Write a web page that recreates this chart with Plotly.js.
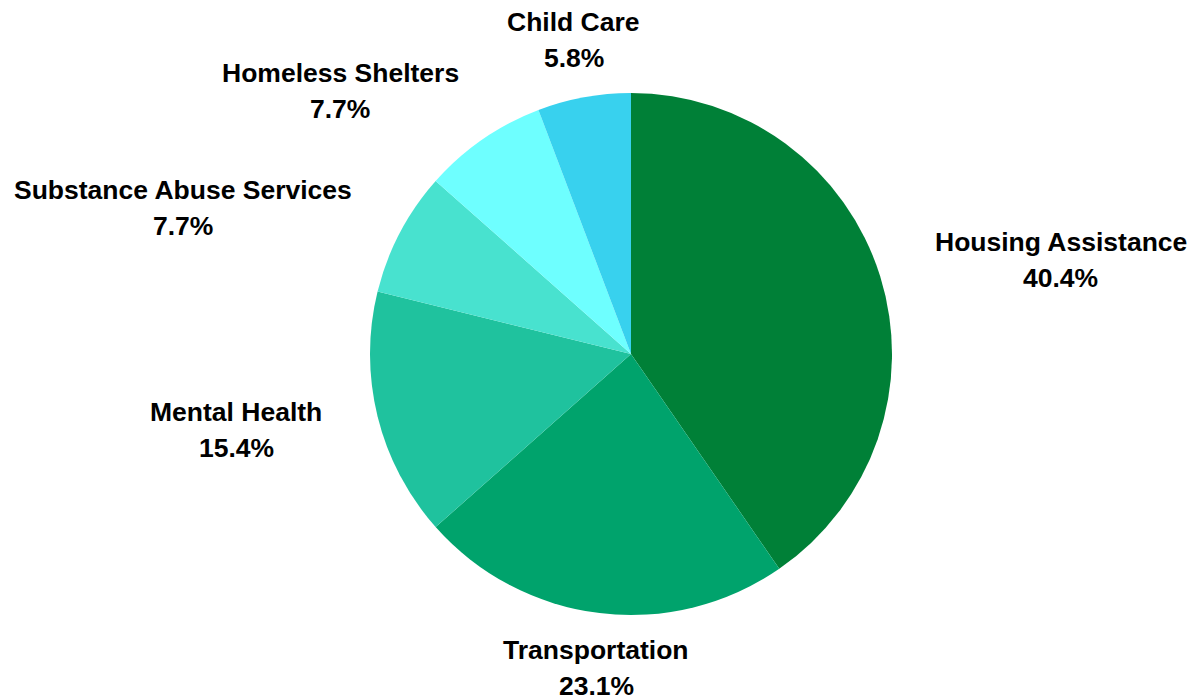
<!DOCTYPE html>
<html>
<head>
<meta charset="utf-8">
<script src="https://cdn.plot.ly/plotly-3.0.1.min.js"></script>
<style>
html,body{margin:0;padding:0;background:#fff;}
#chart{width:1199px;height:700px;}
</style>
</head>
<body>
<div id="chart"></div>
<script>
const categories = ["Housing Assistance", "Transportation", "Mental Health", "Substance Abuse Services", "Homeless Shelters", "Child Care"];
const values = [21, 12, 8, 4, 4, 3];
const colors = ["#008037", "#00A36C", "#1FC29E", "#48E2CF", "#6EFFFF", "#38D1EE"];

const W = 1199, H = 700;
const FONT_SIZE = 26.5;
const FONT_FAMILY = "'Liberation Sans', Arial, sans-serif";
const LINE_GAP = 36;

// pie geometry (layout)
const cx = 631, cy = 354, r = 261;
const domainX = [(cx - r) / W, (cx + r) / W];
const domainY = [(H - cy - r) / H, (H - cy + r) / H];

const total = values.reduce((a, b) => a + b, 0);
const pct = values.map(v => (100 * v / total).toFixed(1) + "%");

const canvas = document.createElement("canvas");
const ctx = canvas.getContext("2d");
ctx.font = "bold " + FONT_SIZE + "px " + FONT_FAMILY;

function clamp(v, a, b) { return Math.max(a, Math.min(b, v)); }

const annotations = [];
let cum = 0;
values.forEach((v, i) => {
  const mid = (cum + v / 2) / total * 2 * Math.PI;
  cum += v;
  const s = Math.sin(mid), c = Math.cos(mid);
  const w = Math.max(ctx.measureText(categories[i]).width, ctx.measureText(pct[i]).width);
  const h = 60;
  const D = 282 + 37 * Math.abs(s);
  const f = Math.sign(s) * clamp((Math.abs(s) - 0.15) / 0.4, 0, 1);
  const g = Math.sign(c) * clamp((Math.abs(c) - 0.7) / 0.28, 0, 1);
  const bx = cx + D * s + f * w / 2;
  const by = cy - D * c - g * h / 2;
  const lines = [[categories[i], by - LINE_GAP / 2], [pct[i], by + LINE_GAP / 2]];
  lines.forEach(([t, yy]) => {
    annotations.push({
      xref: "paper", yref: "paper",
      x: bx / W, y: (H - yy) / H,
      xanchor: "center", yanchor: "middle",
      text: "<b>" + t + "</b>",
      showarrow: false,
      align: "center",
      font: {family: FONT_FAMILY, size: FONT_SIZE, color: "#000000"}
    });
  });
});

const data = [{
  type: "pie",
  labels: categories,
  values: values,
  sort: false,
  direction: "clockwise",
  rotation: 0,
  textinfo: "none",
  marker: {colors: colors, line: {width: 0}},
  domain: {x: domainX, y: domainY},
  showlegend: false
}];

const layout = {
  width: W, height: H,
  margin: {l: 0, r: 0, t: 0, b: 0},
  paper_bgcolor: "#ffffff",
  plot_bgcolor: "#ffffff",
  annotations: annotations,
  showlegend: false
};

Plotly.newPlot("chart", data, layout, {displayModeBar: false, staticPlot: true});
</script>
</body>
</html>
